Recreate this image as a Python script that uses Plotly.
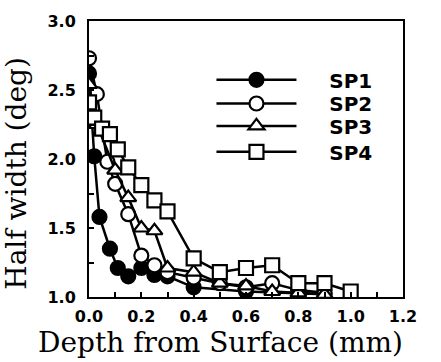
import plotly.graph_objects as go

sp1_x = [0.0, 0.02, 0.04, 0.08, 0.11, 0.15, 0.2, 0.25, 0.3, 0.4, 0.6, 0.9]
sp1_y = [2.62, 2.02, 1.58, 1.35, 1.21, 1.15, 1.21, 1.16, 1.15, 1.07, 1.04, 1.02]

sp2_x = [0.0, 0.03, 0.07, 0.1, 0.15, 0.2, 0.25, 0.3, 0.4, 0.5, 0.6, 0.7, 0.8, 0.9]
sp2_y = [2.73, 2.47, 1.98, 1.82, 1.60, 1.30, 1.23, 1.18, 1.14, 1.10, 1.07, 1.10, 1.05, 1.03]

sp3_x = [0.0, 0.03, 0.1, 0.15, 0.2, 0.25, 0.3, 0.4, 0.5, 0.6, 0.7, 0.8, 0.9]
sp3_y = [2.54, 2.25, 1.92, 1.72, 1.50, 1.48, 1.21, 1.18, 1.10, 1.08, 1.04, 1.03, 1.02]

sp4_x = [0.0, 0.02, 0.05, 0.08, 0.11, 0.15, 0.2, 0.25, 0.3, 0.4, 0.5, 0.6, 0.7, 0.8, 0.9, 1.0]
sp4_y = [2.41, 2.30, 2.22, 2.18, 2.07, 1.94, 1.81, 1.70, 1.62, 1.28, 1.18, 1.21, 1.23, 1.10, 1.10, 1.04]

x_ticks = [0, 0.2, 0.4, 0.6, 0.8, 1.0, 1.2]
x_labels = ["0.0", "0.2", "0.4", "0.6", "0.8", "1.0", "1.2"]
y_ticks = [1.0, 1.5, 2.0, 2.5, 3.0]
y_labels = ["1.0", "1.5", "2.0", "2.5", "3.0"]
x_title = "Depth from Surface (mm)"
y_title = "Half width (deg)"

series = [
    ("SP1", sp1_x, sp1_y, "circle", "black"),
    ("SP2", sp2_x, sp2_y, "circle", "white"),
    ("SP3", sp3_x, sp3_y, "triangle-up", "white"),
    ("SP4", sp4_x, sp4_y, "square", "white"),
]
legend_ys = [0.787, 0.701, 0.620, 0.526]
legend_ids = ["legend", "legend2", "legend3", "legend4"]

NB = "\u00a0"
fig = go.Figure()
for (name, xs, ys, sym, fill), lid in zip(series, legend_ids):
    fig.add_trace(go.Scatter(
        x=xs, y=ys, name=NB * 4 + name, mode="lines+markers",
        line=dict(color="black", width=2.5),
        marker=dict(symbol=sym, size=14, color=fill,
                    line=dict(color="black", width=2.2)),
        legend=lid,
    ))

layout_legends = {}
for lid, ly in zip(legend_ids, legend_ys):
    layout_legends[lid] = dict(
        x=0.39, y=ly, xanchor="left", yanchor="middle",
        font=dict(family="DejaVu Sans", size=20, color="black", weight="bold"),
        itemwidth=80, bgcolor="rgba(0,0,0,0)")

fig.update_layout(
    width=441, height=362,
    margin=dict(l=89, r=38, t=15, b=65),
    paper_bgcolor="white", plot_bgcolor="white",
    showlegend=True,
    font=dict(family="DejaVu Sans", color="black"),
    annotations=[
        dict(text=x_title, xref="paper", yref="paper", x=0.42, y=-0.232,
             xanchor="center", yanchor="bottom", showarrow=False,
             font=dict(family="DejaVu Serif", size=28, color="black")),
        dict(text=y_title, xref="paper", yref="paper", x=-0.232, y=0.447,
             xanchor="center", yanchor="middle", showarrow=False, textangle=-90,
             font=dict(family="DejaVu Serif", size=28, color="black")),
    ],
    **layout_legends,
)
fig.update_xaxes(
    range=[0, 1.2], tickvals=x_ticks, ticktext=x_labels,
    showgrid=False, zeroline=False, showline=True, linecolor="black", linewidth=2,
    mirror=True, ticks="inside", ticklen=5, tickwidth=2, tickcolor="black",
    minor=dict(dtick=0.1, ticks="inside", ticklen=5, tickwidth=2, tickcolor="black"),
    tickfont=dict(family="DejaVu Sans", size=16, weight="bold"),
    ticklabelstandoff=4,
)
fig.update_yaxes(
    range=[1.0, 3.0], tickvals=y_ticks, ticktext=y_labels,
    showgrid=False, zeroline=False, showline=True, linecolor="black", linewidth=2,
    mirror=True, ticks="inside", ticklen=5, tickwidth=2, tickcolor="black",
    minor=dict(dtick=0.25, ticks="inside", ticklen=5, tickwidth=2, tickcolor="black"),
    tickfont=dict(family="DejaVu Sans", size=16, weight="bold"),
    ticklabelstandoff=8,
)

fig.write_html("out.html")
